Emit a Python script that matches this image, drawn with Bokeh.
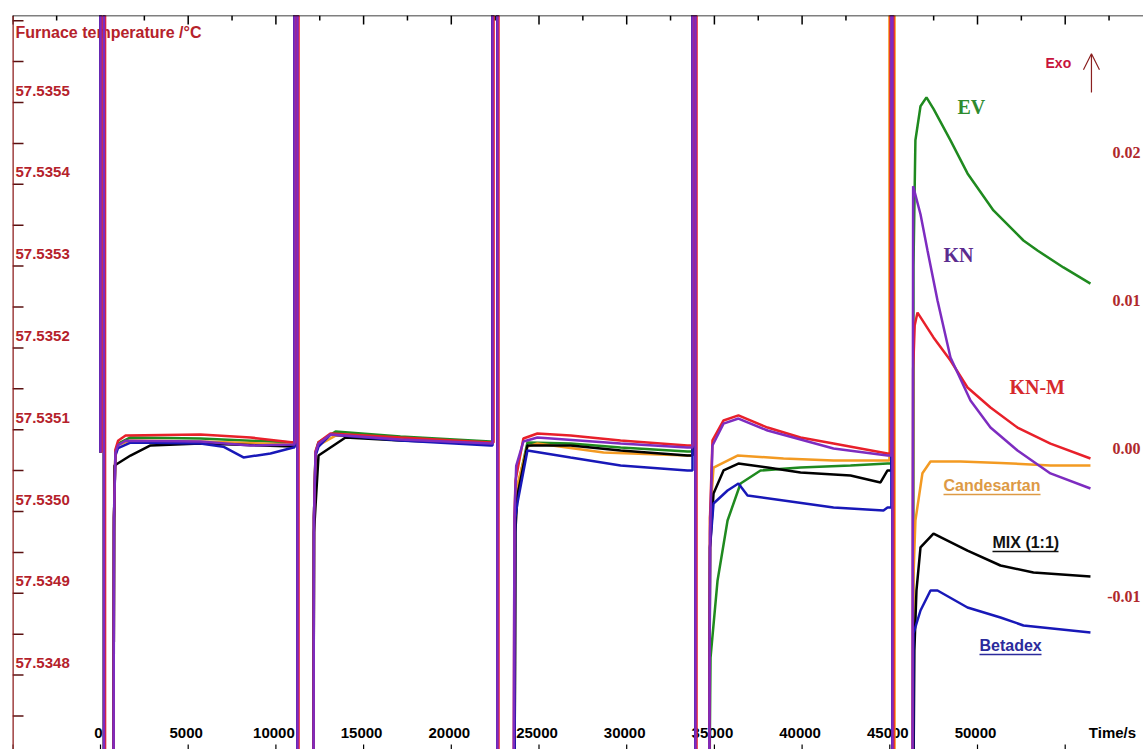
from bokeh.plotting import figure
from bokeh.models import Range1d, Arrow, OpenHead, Span
from bokeh.core.properties import value
from bokeh.embed import file_html
from bokeh.resources import INLINE

# ---------------- data (time / s, heat flow) ----------------
SPIKE_TOP = 0.035      # off-scale injection spikes
SPIKE_BOT = -0.025
BASE0 = 0.0004         # level before first injection

inj_up = [0, 11060, 22350, 33750, 45090]
inj_down = [200, 11230, 22630, 33920, 45150]

# EV
ev_restart = [740, 12140, 23600, 34700, 46330]
ev_seg_t = [
    [770, 850, 1000, 1710, 5700, 11000],
    [12170, 12260, 12430, 13400, 17100, 22230],
    [23650, 23770, 24340, 26800, 29650, 33460],
    [34760, 34780, 35180, 35750, 36490, 37630, 39910, 42760, 44870],
    [46350, 46460, 46750, 47090, 47500, 48460, 49430, 50910, 52620, 53420, 54900, 56440],
]
ev_seg_v = [
    [-0.004, 0.0005, 0.0010, 0.00142, 0.00135, 0.00108],
    [-0.004, 0.0004, 0.0011, 0.00182, 0.00149, 0.00115],
    [-0.004, -0.0020, 0.00108, 0.00101, 0.00074, 0.00047],
    [-0.016, -0.01345, -0.00824, -0.00419, -0.00169, -0.00081, -0.00061, -0.00047, -0.00034],
    [0.0130, 0.0215, 0.0238, 0.0244, 0.0236, 0.02149, 0.01926, 0.01676, 0.01473, 0.01405, 0.01291, 0.01182],
]

# KN
kn_restart = [740, 12140, 23550, 34700, 46290]
kn_seg_t = [
    [770, 850, 1000, 1430, 5700, 8550, 11000],
    [12170, 12260, 12430, 13110, 17100, 22230],
    [23600, 23700, 24110, 24910, 29650, 33460],
    [34750, 34890, 35520, 36370, 38030, 41790, 44870],
    [46330, 46750, 47150, 47720, 48460, 49600, 50740, 52280, 54160, 56440],
]
kn_seg_v = [
    [-0.004, 0.0004, 0.0009, 0.0012, 0.00115, 0.00088, 0.00095],
    [-0.004, 0.0004, 0.0010, 0.00162, 0.00128, 0.00101],
    [-0.004, -0.0005, 0.00115, 0.00142, 0.00101, 0.00074],
    [-0.005, 0.00088, 0.00236, 0.0027, 0.00189, 0.00068, 0.0002],
    [0.0184, 0.0165, 0.01405, 0.01068, 0.00682, 0.00392, 0.00209, 0.00054, -0.00101, -0.00203],
]

# KN-M
knm_up = [60, 11120, 22410, 33810, 45040]
knm_down = [260, 11290, 22690, 33980, 45210]
knm_restart = [740, 12140, 23550, 34700, 46290]
knm_seg_t = [
    [770, 850, 1000, 1430, 5700, 8550, 11000],
    [12170, 12260, 12430, 13110, 17100, 22230],
    [23600, 23660, 24110, 24910, 26800, 29650, 33460],
    [34750, 34890, 35520, 36370, 38030, 39910, 41790, 44870],
    [46330, 46420, 46580, 47490, 48460, 49430, 50740, 52280, 54160, 56440],
]
knm_seg_v = [
    [-0.004, 0.0006, 0.0012, 0.00155, 0.00162, 0.00142, 0.00108],
    [-0.004, 0.0005, 0.0011, 0.00169, 0.00142, 0.00108],
    [-0.004, -0.0015, 0.00135, 0.00169, 0.00155, 0.00122, 0.00088],
    [-0.004, 0.00122, 0.00257, 0.00291, 0.00209, 0.00142, 0.00101, 0.00034],
    [0.0060, 0.0090, 0.00986, 0.00818, 0.00662, 0.0048, 0.00345, 0.00209, 0.00101, 0.0],
]

# Candesartan
cand_up = [0, 11060, 22350, 33750, 44980]
cand_down = [200, 11230, 22630, 33920, 45270]
cand_restart = [740, 12140, 23600, 34700, 46290]
cand_seg_t = [
    [770, 850, 1000, 1710, 5700, 11000],
    [12170, 12260, 12430, 13400, 17100, 22230],
    [23650, 23720, 24340, 24910, 28680, 33460],
    [34750, 34950, 36320, 38940, 41790, 44870],
    [46350, 46460, 46860, 47320, 49030, 51310, 54160, 56440],
]
cand_seg_v = [
    [-0.004, 0.0003, 0.0009, 0.00122, 0.00115, 0.00095],
    [-0.004, 0.0003, 0.0009, 0.00155, 0.0013, 0.00101],
    [-0.004, -0.0020, 0.0008, 0.00101, 0.00041, 0.0002],
    [-0.004, -0.00061, 0.0002, 0.0, -0.00014, -0.00014],
    [-0.008, -0.0042, -0.0010, -0.0002, -0.0002, -0.0003, -0.00047, -0.00047],
]

# MIX (1:1)
mix_restart = [740, 12140, 23600, 34700, 46330]
mix_seg_t = [
    [770, 800, 1710, 2850, 5700, 11000],
    [12170, 12430, 13970, 17100, 22230],
    [23650, 23770, 24340, 26800, 29650, 33460],
    [34750, 34950, 35520, 36370, 38030, 39910, 42760, 44470, 44870],
    [46400, 46520, 46750, 47490, 49430, 51310, 53190, 56440],
]
mix_seg_v = [
    [-0.005, -0.00047, 0.0002, 0.00088, 0.00101, 0.00081],
    [-0.005, 0.0002, 0.00142, 0.00122, 0.00101],
    [-0.005, -0.0025, 0.00088, 0.00088, 0.00054, 0.0002],
    [-0.006, -0.00236, -0.00081, -0.00034, -0.00061, -0.00095, -0.00115, -0.00162, -0.00081],
    [-0.013, -0.00892, -0.00601, -0.00507, -0.00622, -0.00723, -0.0077, -0.00797],
]

# Betadex
beta_restart = [740, 12140, 23600, 34700, 46330]
beta_seg_t = [
    [770, 850, 1000, 1710, 5700, 7000, 8150, 9690, 11000],
    [12170, 12260, 12430, 13110, 17100, 22230],
    [23650, 23770, 24340, 26800, 29650, 33460],
    [34750, 34950, 35750, 36370, 36890, 38940, 41790, 44640, 44870],
    [46350, 46750, 47320, 47720, 49430, 51310, 52620, 56440],
]
beta_seg_v = [
    [-0.004, 0.0002, 0.0007, 0.00108, 0.00101, 0.0008, 0.00007, 0.00034, 0.00074],
    [-0.004, 0.0002, 0.0008, 0.00162, 0.00122, 0.00088],
    [-0.004, -0.0030, 0.00054, 0.00007, -0.00047, -0.00081],
    [-0.006, -0.00304, -0.00216, -0.00169, -0.0025, -0.00284, -0.00331, -0.00351, -0.00331],
    [-0.01182, -0.01027, -0.00892, -0.00892, -0.01007, -0.01074, -0.01128, -0.01176],
]

# axes / tick labels
x_tick_vals = [0, 5000, 10000, 15000, 20000, 25000, 30000, 35000, 40000, 45000, 50000]
x_tick_text = ["0", "5000", "10000", "15000", "20000", "25000", "30000", "35000", "40000", "45000", "50000"]
x_major = [-5000, 0, 5000, 10000, 15000, 20000, 25000, 30000, 35000, 40000, 45000, 50000, 55000]
x_minor = [-2500, 2500, 7500, 12500, 17500, 22500, 27500, 32500, 37500, 42500, 47500, 52500, 57500]
temp_vals = [57.5355, 57.5354, 57.5353, 57.5352, 57.5351, 57.5350, 57.5349, 57.5348]
temp_text = ["57.5355", "57.5354", "57.5353", "57.5352", "57.5351", "57.5350", "57.5349", "57.5348"]
temp_ticks = [57.53475, 57.5348, 57.53485, 57.5349, 57.53495, 57.5350, 57.53505, 57.5351,
              57.53515, 57.5352, 57.53525, 57.5353, 57.53535, 57.5354, 57.53545, 57.5355,
              57.53555, 57.5356]
hf_vals = [0.02, 0.01, 0.00, -0.01]
hf_text = ["0.02", "0.01", "0.00", "-0.01"]

X_RANGE = (-5017, 59464)
Y_RANGE = (-0.019662, 0.029932)
T_RANGE = (57.53470905, 57.53560636)
PX_X = (X_RANGE[1] - X_RANGE[0]) / 1131.0     # data units per pixel (x)
PX_Y = (Y_RANGE[1] - Y_RANGE[0]) / 734.0      # data units per pixel (y)


def build(restart, seg_t, seg_v, up=inj_up, down=inj_down):
    t, v = [], []
    last = BASE0
    for k in range(len(seg_t)):
        t += [up[k], up[k], down[k], down[k], restart[k]]
        v += [last, SPIKE_TOP, SPIKE_TOP, SPIKE_BOT, SPIKE_BOT]
        t += seg_t[k]
        v += seg_v[k]
        last = seg_v[k][-1]
    return t, v


# ---------------- figure ----------------
W, H = 1143, 749
p = figure(width=W, height=H, output_backend="svg", toolbar_location=None,
           x_range=Range1d(*X_RANGE), y_range=Range1d(*Y_RANGE),
           x_axis_location=None, y_axis_location=None,
           min_border_left=12, min_border_top=15, min_border_right=0, min_border_bottom=0)
p.extra_y_ranges = {"temp": Range1d(*T_RANGE)}
p.outline_line_color = None
p.xgrid.visible = False
p.ygrid.visible = False
p.background_fill_color = "white"
p.border_fill_color = "white"

RED_TXT = "#b5222b"
SANS = value("Liberation Sans")
SERIF = value("Liberation Serif")

# --- axis lines and inward ticks ---
p.add_layout(Span(location=X_RANGE[0], dimension="height", line_color="#8b1a1a", line_width=2.5))
p.add_layout(Span(location=Y_RANGE[1], dimension="width", line_color="black", line_width=1.5))
p.segment(x0=[X_RANGE[0]] * len(temp_ticks), x1=[X_RANGE[0] + 11 * PX_X] * len(temp_ticks),
          y0=temp_ticks, y1=temp_ticks, y_range_name="temp",
          line_color="#5a1010", line_width=1.5)
p.segment(x0=x_major, x1=x_major, y0=[Y_RANGE[1]] * len(x_major),
          y1=[Y_RANGE[1] - 9 * PX_Y] * len(x_major), line_color="black", line_width=1.5)
p.segment(x0=x_minor, x1=x_minor, y0=[Y_RANGE[1]] * len(x_minor),
          y1=[Y_RANGE[1] - 5 * PX_Y] * len(x_minor), line_color="black", line_width=1.5)
p.segment(x0=x_major, x1=x_major, y0=[Y_RANGE[0]] * len(x_major),
          y1=[Y_RANGE[0] + 5 * PX_Y] * len(x_major), line_color="black", line_width=1.2)

# tick labels drawn inside the frame (as in the reference)
p.text(x=[-4846] * len(temp_vals), y=temp_vals, text=temp_text, y_range_name="temp",
       text_font=SANS, text_font_style="bold", text_font_size="15px",
       text_color=RED_TXT, text_baseline="middle", text_align="left", y_offset=-12)
p.text(x=x_tick_vals, y=[-0.018514] * len(x_tick_vals), text=x_tick_text,
       text_font=SANS, text_font_style="bold", text_font_size="15px",
       text_color="black", text_baseline="middle", text_align="center", x_offset=-2)
p.text(x=[57694], y=[-0.018514], text=["Time/s"],
       text_font=SANS, text_font_style="bold", text_font_size="15px",
       text_color="black", text_baseline="middle", text_align="center")
p.text(x=[59300] * len(hf_vals), y=hf_vals, text=hf_text,
       text_font=SERIF, text_font_style="bold", text_font_size="16px",
       text_color="#b0282c", text_baseline="middle", text_align="right", y_offset=-10)
p.text(x=[-4846], y=[0.02878], text=["Furnace temperature /°C"],
       text_font=SANS, text_font_style="bold", text_font_size="16px",
       text_color=RED_TXT, text_baseline="middle", text_align="left")
p.text(x=[53877], y=[0.02669], text=["Exo"],
       text_font=SANS, text_font_style="bold", text_font_size="14px",
       text_color="#c8143c", text_baseline="middle", text_align="left")
p.add_layout(Arrow(end=OpenHead(size=16, line_color="#8b2020", line_width=1.2),
                   x_start=56497, y_start=0.02473, x_end=56497, y_end=0.02735,
                   line_color="#8b2020", line_width=1.2))

# series labels
p.text(x=[48858], y=[0.02372], text=["EV"], text_font=SERIF, text_font_style="bold",
       text_font_size="20px", text_color="#2e8b2e", text_baseline="middle")
p.text(x=[48062], y=[0.01378], text=["KN"], text_font=SERIF, text_font_style="bold",
       text_font_size="20px", text_color="#5b2c8f", text_baseline="middle")
p.text(x=[51822], y=[0.0048], text=["KN-M"], text_font=SERIF, text_font_style="bold",
       text_font_size="20px", text_color="#d6282c", text_baseline="middle")
ul_names = ["Candesartan", "MIX (1:1)", "Betadex"]
ul_x0 = [48062, 50855, 50114]
ul_x1 = [53592, 54618, 53649]
ul_y = [-0.00182, -0.00568, -0.01264]
ul_col = ["#dd9a45", "#111111", "#2b2b9c"]
p.text(x=ul_x0, y=ul_y, text=ul_names, text_font=SANS, text_font_style="bold",
       text_font_size="16px", text_color=ul_col, text_baseline="middle")
p.segment(x0=ul_x0, x1=ul_x1, y0=[v - 0.00061 for v in ul_y], y1=[v - 0.00061 for v in ul_y],
          line_color=ul_col, line_width=1.5)

# curves
series = [
    (build(ev_restart, ev_seg_t, ev_seg_v), "#1f8a1f"),
    (build(cand_restart, cand_seg_t, cand_seg_v, cand_up, cand_down), "#f39a22"),
    (build(mix_restart, mix_seg_t, mix_seg_v), "#000000"),
    (build(beta_restart, beta_seg_t, beta_seg_v), "#1818b8"),
    (build(knm_restart, knm_seg_t, knm_seg_v, knm_up, knm_down), "#e8202a"),
    (build(kn_restart, kn_seg_t, kn_seg_v), "#7d2cc0"),
]
for (t, v), col in series:
    p.line(t, v, line_color=col, line_width=2.5)

open("out.html", "w").write(file_html(p, INLINE))
